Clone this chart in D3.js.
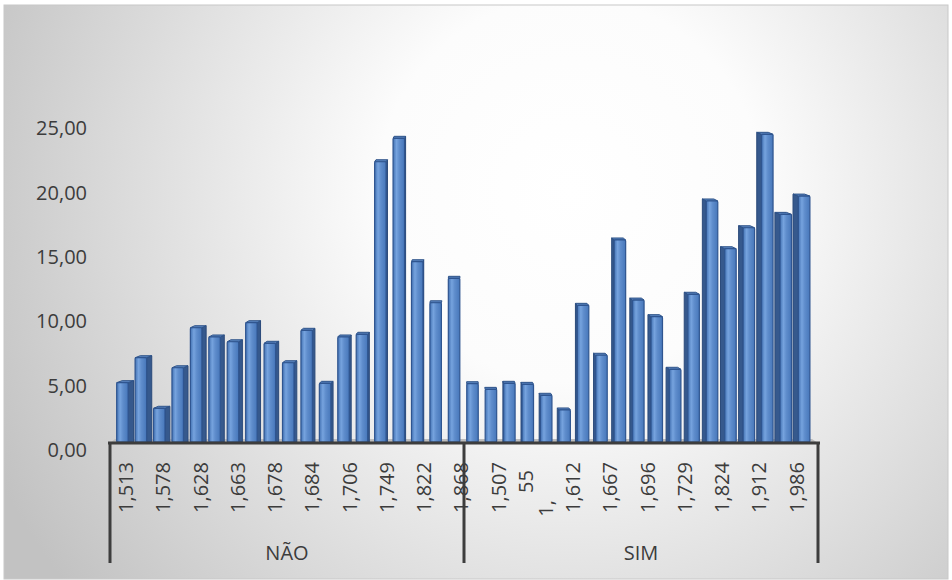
<!DOCTYPE html>
<html>
<head>
<meta charset="utf-8">
<script src="https://cdn.jsdelivr.net/npm/d3@7/dist/d3.min.js"></script>
<style>
  html, body { margin: 0; padding: 0; background: #ffffff; }
  svg { display: block; }
  text { font-family: "Open Sans", "Noto Sans", sans-serif; fill: #3c3c3c; }
</style>
</head>
<body>
<svg id="chart" width="952" height="580"></svg>
<script>
// Group names on the outer category level
const groups = ["NÃO", "SIM"];

// Bar values, one per category, in each group
const valuesNao = [4.61, 6.55, 2.62, 5.77, 8.88, 8.16, 7.79, 9.27, 7.67, 6.16,
                   8.68, 4.56, 8.16, 8.37, 21.78, 23.60, 14.01, 10.82, 12.72];
const valuesSim = [4.53, 4.09, 4.56, 4.48, 3.63, 2.49, 10.62, 6.74, 15.70, 11.03,
                   9.74, 5.65, 11.48, 18.73, 15.02, 16.65, 23.91, 17.69, 19.11];

// Category tick labels (every second category is labelled)
const tickLabelsNao = ["1,513", "1,578", "1,628", "1,663", "1,678",
                       "1,684", "1,706", "1,749", "1,822", "1,868"];
const tickLabelsSim = ["1,507", "1,55", "1,612", "1,667", "1,696",
                       "1,729", "1,824", "1,912", "1,986"];

// Value axis ticks
const valueTicks = [0, 5, 10, 15, 20, 25];

// Flattened rows for drawing
const rows = [];
valuesNao.forEach(v => rows.push({ group: groups[0], value: v }));
valuesSim.forEach(v => rows.push({ group: groups[1], value: v }));
rows.forEach((r, i) => r.index = i);

const tickRows = [];
tickLabelsNao.forEach((t, k) => tickRows.push({ index: k * 2, label: t }));
tickLabelsSim.forEach((t, k) => tickRows.push({ index: valuesNao.length + 1 + k * 2, label: t }));

// Labels that wrap onto two lines
const wrappedLabels = { "1,55": ["55", "1,"] };

const svg = d3.select("#chart");
const defs = svg.append("defs");

// Backdrop shading
const bg = defs.append("radialGradient")
  .attr("id", "bgGrad").attr("gradientUnits", "userSpaceOnUse")
  .attr("cx", 570).attr("cy", 190).attr("r", 640);
bg.append("stop").attr("offset", "0").attr("stop-color", "#ffffff");
bg.append("stop").attr("offset", "0.3").attr("stop-color", "#fcfcfc");
bg.append("stop").attr("offset", "1").attr("stop-color", "#c2c2c2");

// Front face shading of each column
const fg = defs.append("linearGradient").attr("id", "faceGrad")
  .attr("x1", "0").attr("x2", "1").attr("y1", "0").attr("y2", "0");
[["0", "#4473b4"], ["0.3", "#76a3de"], ["0.55", "#5f8dcc"], ["1", "#4777ba"]]
  .forEach(([o, c]) => fg.append("stop").attr("offset", o).attr("stop-color", c));

svg.append("rect")
  .attr("x", 4).attr("y", 5).attr("width", 944).attr("height", 574)
  .attr("fill", "url(#bgGrad)")
  .attr("stroke", "#c8c8c8").attr("stroke-width", 1);

// Scales
const n = rows.length;
const axisLeft = 110, axisRight = 818, floorY = 443;
const xFront = d3.scaleBand().domain(d3.range(n)).range([axisLeft, axisRight]);
const xBack = d3.scaleBand().domain(d3.range(n)).range([116, 810.6]);
const y = d3.scaleLinear().domain([0, 25]).range([450, 128.3]);
const depthShift = 8;       // columns stand on the floor behind the axis line
const vanishX = 465;

// Value axis labels
const yAxis = d3.axisLeft(y).tickValues(valueTicks)
  .tickFormat(d => d3.format(".2f")(d).replace(".", ","))
  .tickSize(0).tickPadding(0);
const yG = svg.append("g").attr("transform", "translate(87,0)").call(yAxis);
yG.select(".domain").remove();
yG.selectAll("text")
  .style("font-family", "'Open Sans', sans-serif")
  .style("font-size", "20px").attr("fill", "#3c3c3c");

// Floor strip
svg.append("polygon")
  .attr("points", [[axisLeft, floorY], [axisRight, floorY],
                   [812, floorY - 4], [115, floorY - 4]].map(p => p.join(",")).join(" "))
  .attr("fill", "#bdbdbd");

// Columns
const faceW = 11.5;
const bars = svg.append("g").selectAll("g").data(rows).join("g");

bars.each(function (d) {
  const g = d3.select(this);
  const c = xBack(d.index) + xBack.bandwidth() / 2;
  const side = Math.min(5.5, Math.abs(c - vanishX) * 0.016);
  const dir = c < vanishX ? 1 : -1;
  const fc = c - dir * side / 2;
  const fl = fc - faceW / 2, fr = fc + faceW / 2;
  const top = y(d.value) - depthShift;
  const bottom = y(0) - depthShift;
  const lift = 2;
  const edge = dir > 0 ? fr : fl;
  const far = edge + dir * side;

  // side face
  if (side > 0.5) {
    g.append("polygon")
      .attr("points", [[edge, top], [far, top - lift], [far, bottom], [edge, bottom]]
        .map(p => p.join(",")).join(" "))
      .attr("fill", "#36598d").attr("stroke", "#2b4a7a").attr("stroke-width", 1);
  }
  // top face
  g.append("polygon")
    .attr("points", [[fl, top], [fl + dir * side, top - lift], [fr + dir * side, top - lift], [fr, top]]
      .map(p => p.join(",")).join(" "))
    .attr("fill", "#5a84bf").attr("stroke", "#2e5389").attr("stroke-width", 1);
  // front face
  g.append("rect")
    .attr("x", fl).attr("y", top).attr("width", faceW).attr("height", bottom - top)
    .attr("rx", 1)
    .attr("fill", "url(#faceGrad)")
    .attr("stroke", "#2f5590").attr("stroke-width", 1.2);
});

// Category axis lines
const axisG = svg.append("g").attr("stroke", "#3d3d3d").attr("stroke-width", 3);
axisG.append("line").attr("x1", axisLeft - 2).attr("x2", axisRight + 2)
  .attr("y1", floorY).attr("y2", floorY);
const dividers = [axisLeft, xFront(valuesNao.length), axisRight];
dividers.forEach(x => axisG.append("line")
  .attr("x1", x).attr("x2", x).attr("y1", floorY).attr("y2", 563));

// Category tick labels (rotated)
const labelTop = 462;
const labelShift = 6.5;
tickRows.forEach(t => {
  const cx = xFront(t.index) + xFront.bandwidth() / 2 + labelShift;
  const lines = wrappedLabels[t.label];
  if (lines) {
    [[lines[0], cx - 10, 470], [lines[1], cx + 10, 500]].forEach(([txt, lx, ly]) => {
      svg.append("text")
        .attr("transform", `translate(${lx},${ly}) rotate(-90)`)
        .attr("text-anchor", "end").attr("dy", "0.36em")
        .style("font-size", "20px").text(txt);
    });
  } else {
    svg.append("text")
      .attr("transform", `translate(${cx},${labelTop}) rotate(-90)`)
      .attr("text-anchor", "end").attr("dy", "0.36em")
      .style("font-size", "20px").text(t.label);
  }
});

// Group labels
const groupSpans = [[axisLeft, dividers[1]], [dividers[1], axisRight]];
groups.forEach((gName, i) => {
  svg.append("text")
    .attr("x", (groupSpans[i][0] + groupSpans[i][1]) / 2).attr("y", 560)
    .attr("text-anchor", "middle")
    .style("font-size", "20px").text(gName);
});
</script>
</body>
</html>
